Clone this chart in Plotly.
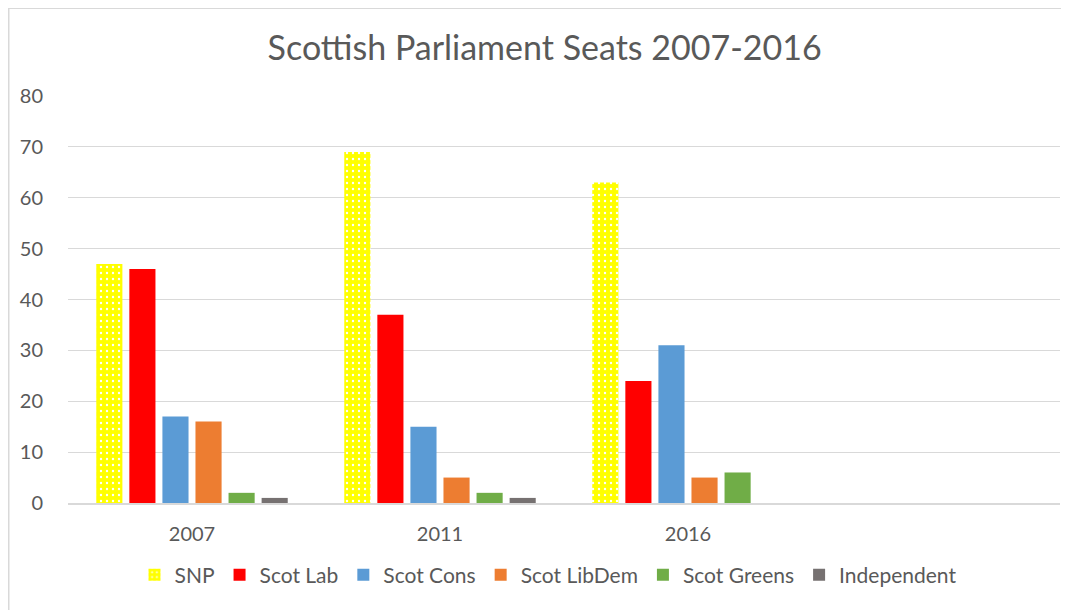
import plotly.graph_objects as go

years = ["2007", "2011", "2016"]
parties = ["SNP", "Scot Lab", "Scot Cons", "Scot LibDem", "Scot Greens", "Independent"]
snp = [47, 69, 63]
scot_lab = [46, 37, 24]
scot_cons = [17, 15, 31]
scot_libdem = [16, 5, 5]
scot_greens = [2, 2, 6]
independent = [1, 1, 0]
y_ticks = [0, 10, 20, 30, 40, 50, 60, 70, 80]

series = [snp, scot_lab, scot_cons, scot_libdem, scot_greens, independent]
colors = ["#FFFF00", "#FF0000", "#5B9BD5", "#ED7D31", "#70AD47", "#767171"]

FONT = "Lato, 'Open Sans', sans-serif"
GREY = "#595959"

fig = go.Figure()
for name, vals, col in zip(parties, series, colors):
    marker = dict(color=col, line=dict(width=0))
    if name == "SNP":
        marker["pattern"] = dict(shape=".", fgcolor="white", bgcolor=col,
                                 size=6, solidity=0.12, fillmode="replace")
    fig.add_trace(go.Bar(x=years, y=vals, name=name, marker=marker))

L, R, T, B = 60, 17, 88, 115
W, H = 1069, 610
pw, ph = W - L - R, H - T - B
pb = H - B  # plot bottom in figure px

fig.update_layout(
    width=W, height=H,
    margin=dict(l=L, r=R, t=T, b=B, pad=0),
    paper_bgcolor="white", plot_bgcolor="white",
    barmode="group", bargap=0.2, bargroupgap=0.21,
    font=dict(family=FONT, color=GREY, size=20),
    title=dict(text="Scottish Parliament Seats 2007-2016", x=0.502, xanchor="center",
               y=1 - 40 / H, yanchor="middle",
               font=dict(family=FONT, size=34, color=GREY)),
    xaxis=dict(type="category", range=[-0.5, 3.5], showgrid=False,
               showline=True, linecolor="#D9D9D9", linewidth=1.5,
               ticks="", tickfont=dict(size=20, color=GREY), ticklabelstandoff=12),
    yaxis=dict(range=[0, 80], tickvals=y_ticks, showgrid=True, gridcolor="#D9D9D9",
               gridwidth=1.2, zeroline=False, showline=False, ticks="",
               ticklabelstandoff=24, tickfont=dict(size=20, color=GREY)),
    legend=dict(orientation="h", xanchor="center", x=(540 - L) / pw,
                yanchor="middle", y=(pb - 567) / ph,
                font=dict(size=21, color=GREY), itemwidth=30,
                traceorder="normal"),
    shapes=[dict(type="rect", xref="paper", yref="paper",
                 x0=(0.75 - L) / pw, x1=(1068.25 - L) / pw,
                 y0=(pb - 609.25) / ph, y1=(pb - 0.25) / ph,
                 line=dict(color="#D9D9D9", width=1.5), fillcolor="rgba(0,0,0,0)",
                 layer="below")],
)

fig.write_html("out.html")
